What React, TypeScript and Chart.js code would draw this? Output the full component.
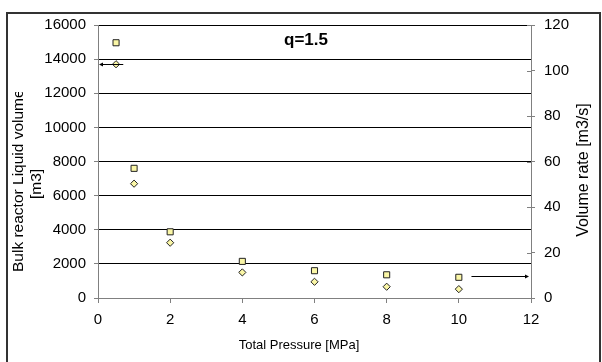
import React, { useEffect, useRef } from "react";
import { Chart, registerables } from "chart.js";

Chart.register(...registerables);

const pressure = [0.5, 1, 2, 4, 6, 8, 10];
const liquidVolume = [13700, 6700, 3240, 1500, 950, 660, 520];
const volumeRate = [112.2, 57.0, 29.1, 16.1, 12.0, 10.2, 9.1];
const titleText = "q=1.5";
const xTitle = "Total Pressure [MPa]";
const yTitleLines = ["Bulk reactor Liquid volume", "[m3]"];
const y1Title = "Volume rate [m3/s]";
// arrow annotations: left arrow starts right of first diamond, right arrow starts right of last square
const leftArrowFromX = 0.7;
const rightArrowFromX = 10.35;
const rightArrowValue = 9.6;

const FONT = "'Liberation Sans', Arial, sans-serif";
const FILL = "#FAF6A6";
const GREY = "#808080";

export default function App() {
  const ref = useRef<HTMLCanvasElement>(null);
  useEffect(() => {
    const canvas = ref.current!;
    const deco = {
      id: "deco",
      afterDraw(chart: any) {
        const ctx = chart.ctx as CanvasRenderingContext2D;
        const { x, y, y1 } = chart.scales;
        const area = chart.chartArea;
        ctx.save();
        // outer frame
        ctx.strokeStyle = "#333";
        ctx.lineWidth = 2;
        ctx.strokeRect(7, 13, 593, 400);
        // inner right-axis ticks
        ctx.strokeStyle = GREY;
        ctx.lineWidth = 1;
        y1.ticks.forEach((t: any) => {
          const py = Math.round(y1.getPixelForValue(t.value)) + 0.5;
          ctx.beginPath();
          ctx.moveTo(area.right - 4, py);
          ctx.lineTo(area.right, py);
          ctx.stroke();
        });
        // title
        ctx.fillStyle = "#000";
        ctx.font = `bold 17px ${FONT}`;
        ctx.textAlign = "center";
        ctx.textBaseline = "alphabetic";
        ctx.fillText(titleText, 306, 45);
        // x title
        ctx.font = `13px ${FONT}`;
        ctx.textBaseline = "middle";
        ctx.fillText(xTitle, 299, 345);
        // left title line 1 (clipped at top)
        ctx.save();
        ctx.beginPath();
        ctx.rect(0, 92, 60, 270);
        ctx.clip();
        ctx.translate(23, 272);
        ctx.rotate(-Math.PI / 2);
        ctx.font = `15.5px ${FONT}`;
        ctx.textAlign = "left";
        ctx.textBaseline = "alphabetic";
        ctx.fillText(yTitleLines[0], 0, 0);
        ctx.restore();
        // left title line 2
        ctx.save();
        ctx.translate(41, 184);
        ctx.rotate(-Math.PI / 2);
        ctx.font = `15.5px ${FONT}`;
        ctx.textAlign = "center";
        ctx.textBaseline = "alphabetic";
        ctx.fillText(yTitleLines[1], 0, 0);
        ctx.restore();
        // right title
        ctx.save();
        ctx.translate(584, 170);
        ctx.rotate(-Math.PI / 2);
        ctx.font = `16px ${FONT}`;
        ctx.textAlign = "center";
        ctx.textBaseline = "middle";
        ctx.fillText(y1Title, 0, 0);
        ctx.restore();
        // arrows
        ctx.strokeStyle = "#000";
        ctx.fillStyle = "#000";
        ctx.lineWidth = 1;
        const ly = Math.round(y.getPixelForValue(liquidVolume[0])) + 0.5;
        const lx0 = x.getPixelForValue(leftArrowFromX);
        const lx1 = area.left + 1;
        ctx.beginPath();
        ctx.moveTo(lx0, ly);
        ctx.lineTo(lx1 + 3, ly);
        ctx.stroke();
        ctx.beginPath();
        ctx.moveTo(lx1, ly);
        ctx.lineTo(lx1 + 4, ly - 2);
        ctx.lineTo(lx1 + 4, ly + 2);
        ctx.closePath();
        ctx.fill();
        const ry = Math.round(y1.getPixelForValue(rightArrowValue)) + 0.5;
        const rx0 = x.getPixelForValue(rightArrowFromX);
        const rx1 = area.right - 2;
        ctx.beginPath();
        ctx.moveTo(rx0, ry);
        ctx.lineTo(rx1 - 3, ry);
        ctx.stroke();
        ctx.beginPath();
        ctx.moveTo(rx1, ry);
        ctx.lineTo(rx1 - 4, ry - 2);
        ctx.lineTo(rx1 - 4, ry + 2);
        ctx.closePath();
        ctx.fill();
        ctx.restore();
      },
    };
    const tickFont = { family: FONT, size: 15 };
    const plain = (v: any) => String(v);
    const chart = new Chart(canvas, {
      type: "scatter",
      data: {
        datasets: [
          {
            label: "Bulk reactor Liquid volume",
            data: pressure.map((p, i) => ({ x: p, y: liquidVolume[i] })),
            yAxisID: "y",
            pointStyle: "rectRot",
            pointRadius: 3.6,
            backgroundColor: FILL,
            borderColor: "#222",
            borderWidth: 1,
          },
          {
            label: "Volume rate",
            data: pressure.map((p, i) => ({ x: p, y: volumeRate[i] })),
            yAxisID: "y1",
            pointStyle: "rect",
            pointRadius: 4.3,
            backgroundColor: FILL,
            borderColor: "#222",
            borderWidth: 1,
          },
        ],
      },
      options: {
        responsive: false,
        animation: false,
        devicePixelRatio: 1,
        layout: { padding: { left: 0, right: 0, top: 25, bottom: 0 } },
        plugins: { legend: { display: false }, tooltip: { enabled: false }, title: { display: false } },
        scales: {
          x: {
            type: "linear",
            min: 0,
            max: 12,
            ticks: { stepSize: 2, color: "#000", font: tickFont, padding: 8, callback: plain },
            grid: { drawOnChartArea: false, tickLength: 5, tickColor: GREY, color: GREY },
            border: { color: GREY },
            afterFit: (s: any) => { s.height = 64; },
          },
          y: {
            position: "left",
            min: 0,
            max: 16000,
            ticks: { stepSize: 2000, color: "#000", font: tickFont, padding: 8, callback: plain },
            grid: { color: "#000", tickColor: GREY, tickLength: 4 },
            border: { color: GREY },
            afterFit: (s: any) => { s.width = 98; },
          },
          y1: {
            position: "right",
            min: 0,
            max: 120,
            ticks: { stepSize: 20, color: "#000", font: tickFont, padding: 9, callback: plain },
            grid: { drawOnChartArea: false, tickColor: GREY, tickLength: 4 },
            border: { color: GREY },
            afterFit: (s: any) => { s.width = 71; },
          },
        },
      },
      plugins: [deco],
    });
    return () => chart.destroy();
  }, []);
  return (
    <div style={{ position: "absolute", left: 0, top: 0, width: 602, height: 362, background: "#fff" }}>
      <canvas ref={ref} width={602} height={362} />
    </div>
  );
}
